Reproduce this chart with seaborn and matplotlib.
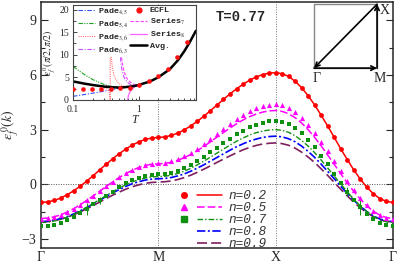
import numpy as np
import pandas as pd
import matplotlib
matplotlib.use("Agg")
import matplotlib.pyplot as plt
import seaborn as sns
from matplotlib.lines import Line2D
from matplotlib.legend_handler import HandlerTuple
from matplotlib.font_manager import FontProperties

# ---------------- data ----------------
path_labels = ["Γ", "M", "X", "Γ"]

eps_n02 = [-1.00, -0.97, -0.89, -0.76, -0.58, -0.36, -0.11, 0.17, 0.47, 0.79, 1.10, 1.40, 1.68, 1.93, 2.15, 2.33, 2.46, 2.54, 2.57,
           2.60, 2.68, 2.81, 2.99, 3.21, 3.46, 3.74, 4.04, 4.35, 4.66, 4.96, 5.24, 5.49, 5.71, 5.89, 6.02, 6.10, 6.13,
           6.07, 5.92, 5.65, 5.30, 4.85, 4.35, 3.78, 3.19, 2.57, 1.94, 1.35, 0.78, 0.28, -0.17, -0.52, -0.79, -0.94, -1.00]
eps_n05 = [-1.88, -1.86, -1.79, -1.68, -1.53, -1.34, -1.13, -0.89, -0.64, -0.38, -0.12, 0.13, 0.37, 0.58, 0.77, 0.92, 1.03, 1.10, 1.12,
           1.14, 1.21, 1.32, 1.46, 1.64, 1.85, 2.08, 2.33, 2.59, 2.84, 3.09, 3.32, 3.53, 3.71, 3.85, 3.96, 4.03, 4.05,
           4.00, 3.87, 3.65, 3.36, 2.99, 2.57, 2.10, 1.60, 1.09, 0.57, 0.07, -0.40, -0.82, -1.19, -1.48, -1.70, -1.83, -1.88]
pts_n05 = [-1.89, -1.87, -1.80, -1.69, -1.53, -1.35, -1.13, -0.89, -0.63, -0.37, -0.11, 0.15, 0.39, 0.61, 0.79, 0.95, 1.06, 1.13, 1.15,
           1.18, 1.25, 1.37, 1.53, 1.73, 1.96, 2.22, 2.49, 2.78, 3.06, 3.33, 3.59, 3.82, 4.02, 4.18, 4.30, 4.37, 4.40,
           4.35, 4.21, 3.98, 3.66, 3.27, 2.83, 2.33, 1.80, 1.26, 0.71, 0.18, -0.32, -0.76, -1.15, -1.47, -1.70, -1.84, -1.89]
eps_n07 = [-2.10, -2.08, -2.02, -1.93, -1.81, -1.65, -1.47, -1.27, -1.06, -0.84, -0.62, -0.41, -0.21, -0.03, 0.13, 0.25, 0.34, 0.40, 0.42,
           0.44, 0.50, 0.59, 0.72, 0.88, 1.07, 1.27, 1.49, 1.71, 1.93, 2.15, 2.36, 2.54, 2.70, 2.83, 2.92, 2.98, 3.00,
           2.96, 2.85, 2.66, 2.40, 2.09, 1.73, 1.32, 0.89, 0.45, 0.01, -0.42, -0.83, -1.19, -1.50, -1.76, -1.95, -2.06, -2.10]
pts_n07 = [-2.30, -2.30, -2.22, -2.12, -1.97, -1.80, -1.58, -1.36, -1.10, -0.88, -0.62, -0.40, -0.15, 0.05, 0.22, 0.36, 0.46, 0.53, 0.56,
           0.57, 0.64, 0.75, 0.89, 1.07, 1.28, 1.51, 1.76, 2.01, 2.26, 2.51, 2.74, 2.95, 3.13, 3.27, 3.38, 3.45, 3.47,
           3.42, 3.30, 3.08, 2.79, 2.44, 2.03, 1.57, 1.09, 0.59, 0.08, -0.40, -0.86, -1.27, -1.62, -1.91, -2.13, -2.25, -2.30]
err_n07 = [0, 0, 0, 0, 0, 0, 0, 0.35, 0, 0.2, 0, 0, 0, 0, 0, 0, 0, 0, 0,
           0, 0, 0, 0, 0, 0, 0, 0, 0, 0, 0, 0, 0, 0, 0, 0, 0, 0,
           0, 0, 0, 0, 0, 0, 0, 0, 0, 0, 0.25, 0, 0.4, 0, 0, 0, 0, 0]
eps_n08 = [-2.05, -2.03, -1.98, -1.89, -1.78, -1.63, -1.46, -1.28, -1.08, -0.88, -0.67, -0.47, -0.29, -0.12, 0.03, 0.14, 0.23, 0.28, 0.30,
           0.32, 0.37, 0.46, 0.57, 0.72, 0.89, 1.07, 1.27, 1.47, 1.67, 1.87, 2.06, 2.22, 2.37, 2.48, 2.57, 2.62, 2.64,
           2.60, 2.50, 2.33, 2.09, 1.80, 1.47, 1.10, 0.70, 0.30, -0.11, -0.51, -0.88, -1.21, -1.50, -1.74, -1.91, -2.01, -2.05]
eps_n09 = [-2.07, -2.05, -2.00, -1.92, -1.81, -1.68, -1.52, -1.35, -1.17, -0.98, -0.78, -0.60, -0.43, -0.27, -0.14, -0.03, 0.05, 0.10, 0.12,
           0.14, 0.18, 0.26, 0.37, 0.50, 0.66, 0.83, 1.01, 1.20, 1.38, 1.56, 1.73, 1.89, 2.02, 2.13, 2.21, 2.25, 2.27,
           2.23, 2.14, 1.98, 1.76, 1.49, 1.19, 0.84, 0.48, 0.10, -0.28, -0.64, -0.99, -1.29, -1.56, -1.78, -1.94, -2.04, -2.07]

# inset: epsilon_f(pi/2, pi/2) versus T
T_ecfl = [0.1, 0.14, 0.195, 0.27, 0.38, 0.53, 0.74, 1.03, 1.43, 2.0, 2.8, 3.9, 5.4]
v_ecfl = [2.45, 2.45, 2.45, 2.45, 2.5, 2.6, 2.75, 3.4, 4.1, 5.3, 6.9, 9.4, 12.9]
T_avg = [0.1, 0.15, 0.2, 0.3, 0.4, 0.5, 0.6, 0.8, 1.0, 1.5, 2.0, 3.0, 4.0, 5.0, 6.0, 7.5]
v_avg = [4.1, 3.6, 3.3, 2.95, 2.8, 2.75, 2.8, 3.0, 3.3, 4.1, 5.0, 6.8, 8.8, 10.8, 12.7, 15.3]
T_p45 = [0.1, 0.15, 0.2, 0.3, 0.4, 0.5]
v_p45 = [0.8, 1.2, 1.5, 1.95, 2.3, 2.55]
T_p54 = [0.1, 0.15, 0.2, 0.3, 0.4, 0.5]
v_p54 = [7.4, 5.6, 4.5, 3.4, 2.95, 2.8]
T_p36 = [0.30, 0.34, 0.36, 0.37, 0.37, 0.385, 0.39, 0.40, 0.42, 0.45, 0.5, 0.6, 0.7]
v_p36 = [2.7, 2.3, 1.5, -0.5, 9.4, 9.4, 8.5, 7.0, 5.6, 4.5, 3.6, 3.0, 2.9]
T_p63 = [0.53, 0.54, 0.56, 0.6, 0.65, 0.7, 0.8, 0.9, 1.0]
v_p63 = [9.4, 8.0, 6.5, 5.0, 4.2, 3.7, 3.2, 3.1, 3.2]
T_s7 = [0.55, 0.57, 0.6, 0.65, 0.7, 0.8, 0.9, 1.0]
v_s7 = [9.4, 7.8, 6.3, 5.0, 4.3, 3.6, 3.3, 3.3]
T_s8 = [0.68, 0.7, 0.75, 0.8, 0.9, 1.0, 1.1]
v_s8 = [-0.2, 1.0, 2.0, 2.5, 3.0, 3.2, 3.4]

# ---------------- style ----------------
sns.set_theme(style="ticks")
plt.rcParams["font.family"] = ["Liberation Serif", "DejaVu Serif"]
plt.rcParams["mathtext.fontset"] = "stix"
plt.rcParams["xtick.direction"] = "in"
plt.rcParams["ytick.direction"] = "in"

fig = plt.figure(figsize=(3.99, 2.63), dpi=100)
ax = fig.add_axes([0.1028, 0.057, 0.882, 0.935])

k = np.linspace(0, 3, len(eps_n02))
df = pd.DataFrame({"k": k, "n02": eps_n02, "n05": eps_n05, "p05": pts_n05,
                   "n07": eps_n07, "p07": pts_n07, "e07": err_n07,
                   "n08": eps_n08, "n09": eps_n09})

c_red, c_mag, c_grn, c_blu, c_mar = "#ff0000", "#ff00ff", "#109010", "#0000ff", "#7f1f5f"

ax.axhline(0, color="#555555", lw=0.7, ls=(0, (1, 1.5)), zorder=1)
for xv in (1, 2):
    ax.axvline(xv, color="#777777", lw=0.7, ls=(0, (1, 1.5)), zorder=1)

sns.lineplot(data=df, x="k", y="n09", ax=ax, color=c_mar, lw=1.2, linestyle=(0, (6, 2.5)))
sns.lineplot(data=df, x="k", y="n08", ax=ax, color=c_blu, lw=1.2, linestyle=(0, (5, 1.5, 1.2, 1.5)))
sns.lineplot(data=df, x="k", y="n07", ax=ax, color=c_grn, lw=1.0, linestyle=(0, (4, 1.5, 1, 1.5)))
sns.lineplot(data=df, x="k", y="n05", ax=ax, color=c_mag, lw=1.1, linestyle=(0, (5, 2)))
sns.lineplot(data=df, x="k", y="n02", ax=ax, color=c_red, lw=1.1)

ax.errorbar(df["k"], df["p07"], yerr=df["e07"], fmt="none", ecolor=c_grn, elinewidth=0.7, zorder=3)
sns.scatterplot(data=df, x="k", y="p07", ax=ax, marker="s", color=c_grn, s=11, linewidth=0, zorder=4)
sns.scatterplot(data=df, x="k", y="p05", ax=ax, marker="^", color=c_mag, s=14, linewidth=0, zorder=4)
sns.scatterplot(data=df, x="k", y="n02", ax=ax, marker="o", color=c_red, s=12, linewidth=0, zorder=4)

ax.set_xlim(0, 3)
ax.set_ylim(-3.5, 10)
ax.set_xticks([0, 1, 2, 3])
ax.set_xticklabels(path_labels, fontsize=10)
ax.set_yticks([-3, 0, 3, 6, 9])
ax.set_yticks([-1.5, 1.5, 4.5, 7.5], minor=True)
ax.tick_params(axis="y", which="both", right=True, labelsize=10, width=0.8)
ax.tick_params(axis="y", which="major", length=5)
ax.tick_params(axis="y", which="minor", length=3)
ax.tick_params(axis="x", length=0, pad=2)
ax.set_xlabel("")
ax.set_ylabel(r"$\varepsilon^{\,0}_{f}(k)$", fontsize=10, labelpad=0)
for s in ax.spines.values():
    s.set_linewidth(1.1)

ax.text(1.70, 9.2, "T=0.77", family="Liberation Mono", weight="bold", fontsize=10,
        ha="center", va="center")

# legend: marker then line, like the original
h_empty = Line2D([], [], linestyle="none")
handles = [
    (Line2D([], [], ls="none", marker="o", color=c_red, ms=4), Line2D([], [], color=c_red, lw=1.1)),
    (Line2D([], [], ls="none", marker="^", color=c_mag, ms=4.5), Line2D([], [], color=c_mag, lw=1.1, ls=(0, (5, 2)))),
    (Line2D([], [], ls="none", marker="s", color=c_grn, ms=3.8), Line2D([], [], color=c_grn, lw=1.0, ls=(0, (4, 1.5, 1, 1.5)))),
    (h_empty, Line2D([], [], color=c_blu, lw=1.2, ls=(0, (5, 1.5, 1.2, 1.5)))),
    (h_empty, Line2D([], [], color=c_mar, lw=1.2, ls=(0, (6, 2.5)))),
]
labels = ["n=0.2", "n=0.5", "n=0.7", "n=0.8", "n=0.9"]
leg = ax.legend(handles, labels, handler_map={tuple: HandlerTuple(ndivide=None, pad=0.0)},
                loc="lower left", bbox_to_anchor=(0.372, -0.01), frameon=False,
                prop=FontProperties(family="Liberation Mono", style="italic", size=9.2),
                handlelength=3.9, handletextpad=0.5, labelspacing=0.0, borderpad=0,
                borderaxespad=0)
for t in leg.get_texts():
    t.set_color("#333333")

# ---------------- inset ----------------
ins = fig.add_axes([0.183, 0.620, 0.308, 0.361])
ins.set_xscale("log")
sns.lineplot(x=T_p45, y=v_p45, ax=ins, color="#3050ff", lw=0.8, linestyle=(0, (4, 1.5, 1, 1.5)), sort=False, estimator=None)
sns.lineplot(x=T_p54, y=v_p54, ax=ins, color="#20a020", lw=0.8, linestyle=(0, (4, 1.2, 1, 1.2, 1, 1.2)), sort=False, estimator=None)
sns.lineplot(x=T_p36, y=v_p36, ax=ins, color="#ff7070", lw=0.8, linestyle=(0, (1, 1)), sort=False, estimator=None)
sns.lineplot(x=T_p63, y=v_p63, ax=ins, color="#c050ff", lw=0.8, linestyle=(0, (4, 1.5, 1, 1.5)), sort=False, estimator=None)
sns.lineplot(x=T_s7, y=v_s7, ax=ins, color="#ff40ff", lw=0.8, linestyle=(0, (3, 1.5)), sort=False, estimator=None)
sns.lineplot(x=T_s8, y=v_s8, ax=ins, color="#ff60ff", lw=0.9, sort=False, estimator=None)
sns.lineplot(x=T_avg, y=v_avg, ax=ins, color="black", lw=1.8, sort=False, estimator=None)
sns.scatterplot(x=T_ecfl, y=v_ecfl, ax=ins, color="#ff1010", marker="o", s=11, linewidth=0, zorder=5)

ins.set_xlim(0.1, 7.5)
ins.set_ylim(0, 21)
ins.set_xticks([0.1, 1])
ins.set_xticklabels(["0.1", "1"])
ins.set_yticks([0, 5, 10, 15, 20])
ins.set_yticks([2.5, 7.5, 12.5, 17.5], minor=True)
ins.tick_params(which="both", direction="in", labelsize=7, width=0.6)
ins.tick_params(axis="x", pad=4)
ins.tick_params(axis="y", pad=3)
ins.tick_params(which="major", length=3)
ins.tick_params(which="minor", length=1.8)
ins.set_xlabel("T", fontsize=8.5, style="italic", labelpad=0)
ins.set_ylabel(r"$\varepsilon^{\,0}_{f}(\pi/2,\pi/2)$", fontsize=7, labelpad=1)
for s in ins.spines.values():
    s.set_linewidth(0.8)
    s.set_color("#444444")

ih = [Line2D([], [], color="#3050ff", lw=0.8, ls=(0, (4, 1.5, 1, 1.5))),
      Line2D([], [], color="#20a020", lw=0.8, ls=(0, (4, 1.2, 1, 1.2, 1, 1.2))),
      Line2D([], [], color="#ff7070", lw=0.8, ls=(0, (1, 1))),
      Line2D([], [], color="#c050ff", lw=0.8, ls=(0, (4, 1.5, 1, 1.5))),
      Line2D([], [], ls="none", marker="o", color="#ff1010", ms=3.5),
      Line2D([], [], color="#ff40ff", lw=0.8, ls=(0, (3, 1.5))),
      Line2D([], [], color="#ff60ff", lw=0.9),
      Line2D([], [], color="black", lw=1.8)]
il = ["Pade$_{4,5}$", "Pade$_{5,4}$", "Pade$_{3,6}$", "Pade$_{6,3}$",
      "ECFL", "Series$_{7}$", "Series$_{8}$", "Avg."]
ileg = ins.legend(ih, il, ncol=2, loc="upper left", bbox_to_anchor=(0.04, 0.99), frameon=False,
                  prop=FontProperties(family="Liberation Mono", weight="bold", size=6.0),
                  handlelength=2.0, handletextpad=0.35, labelspacing=0.3, columnspacing=0.3,
                  borderpad=0, borderaxespad=0)

# ---------------- Brillouin-zone path sketch ----------------
bz = fig.add_axes([0.787, 0.741, 0.158, 0.243])
bz.set_xlim(0, 1)
bz.set_ylim(0, 1)
bz.axis("off")
bz.plot([0, 1, 1, 0, 0], [0, 0, 1, 1, 0], color="#888888", lw=1.0, clip_on=False)
ap = dict(arrowstyle="->", lw=1.2, color="black", shrinkA=0, shrinkB=0, mutation_scale=8)
bz.annotate("", xy=(1, 0), xytext=(0, 0), arrowprops=ap)
bz.annotate("", xy=(1, 1), xytext=(1, 0), arrowprops=ap)
bz.annotate("", xy=(0, 0), xytext=(1, 1), arrowprops=ap)
bz.text(0.04, -0.06, "Γ", fontsize=10, ha="center", va="top")
bz.text(1.05, -0.06, "M", fontsize=10, ha="center", va="top")
bz.text(1.04, 0.9, "X", fontsize=10, ha="left", va="center")

fig.savefig("out.png", dpi=100)
